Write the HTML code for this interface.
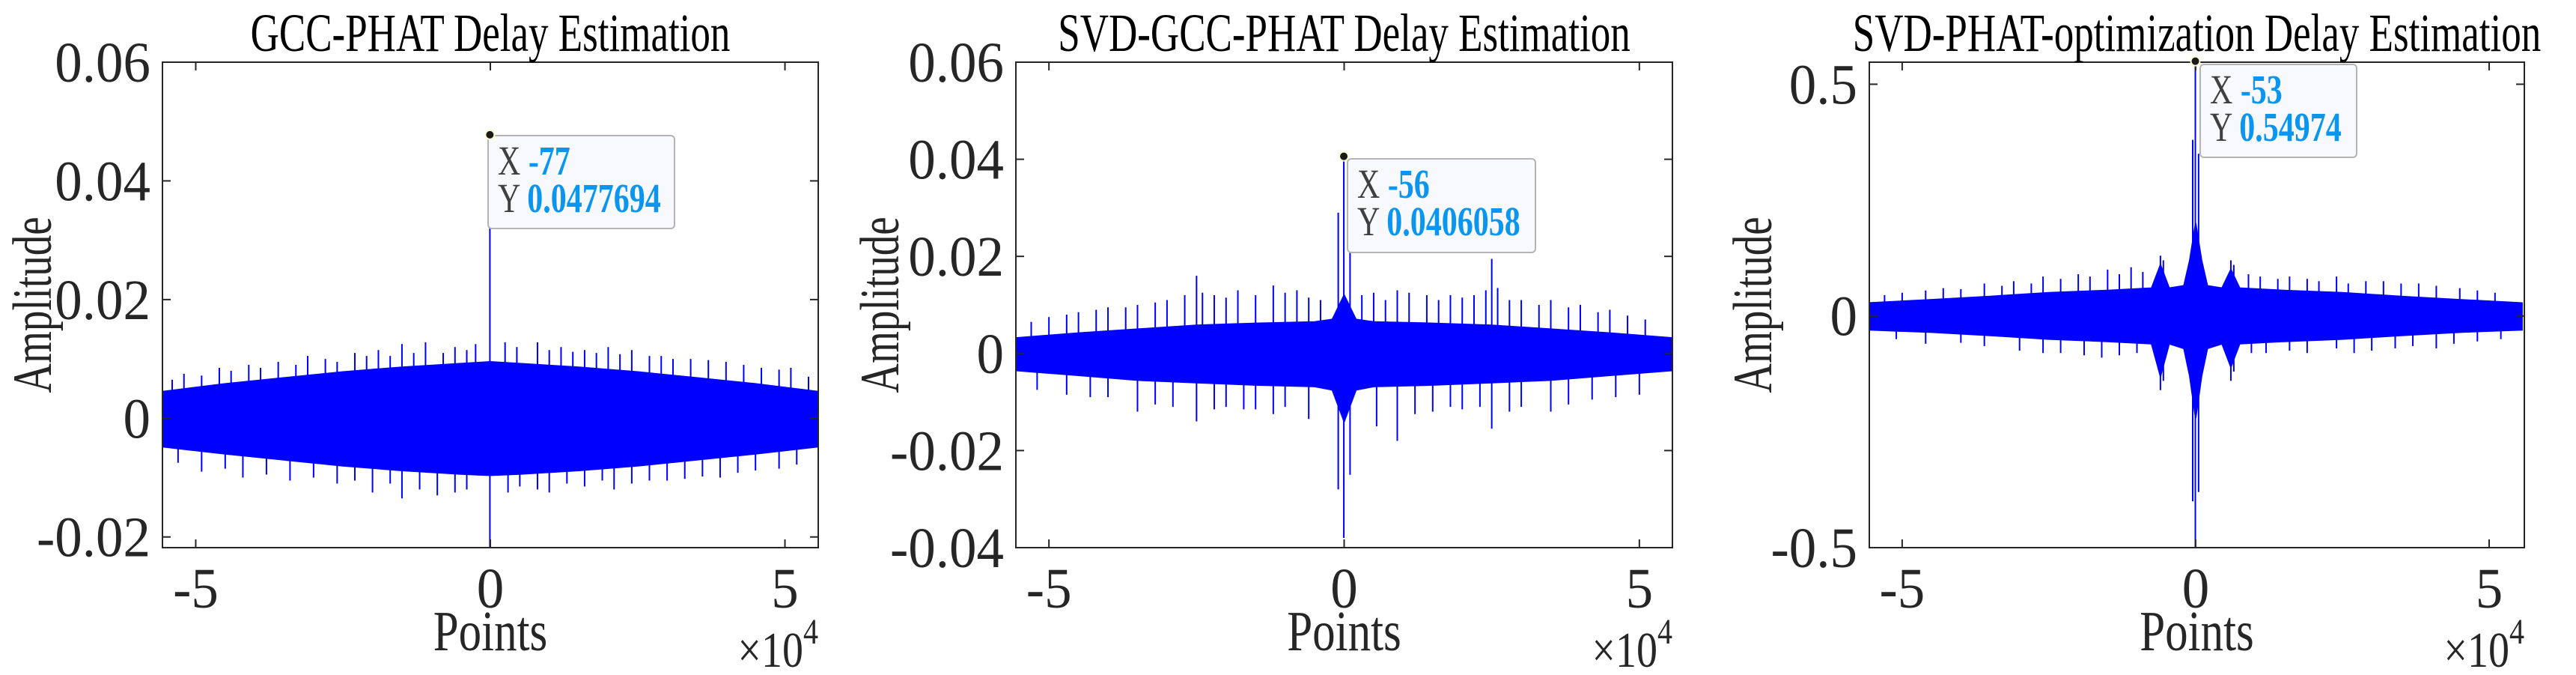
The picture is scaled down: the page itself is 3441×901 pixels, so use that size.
<!DOCTYPE html>
<html><head><meta charset="utf-8"><style>
html,body{margin:0;padding:0;background:#fff;}
svg{display:block;font-family:"Liberation Serif",serif;}
</style></head><body>
<svg id="fig" width="3441" height="901" viewBox="0 0 3441 901" xmlns="http://www.w3.org/2000/svg"></svg>
<script>
// ---- Data (x in units of 1e4 points) ----
const p1EnvX = [-5.56,-4.5,-3.5,-2.5,-1.5,-0.5,0,0.5,1.5,2.5,3.5,4.5,5.56];
const p1EnvUp = [0.0045,0.0058,0.0068,0.0078,0.0086,0.0092,0.0095,0.0092,0.0086,0.0078,0.0068,0.0058,0.0045];
const p1EnvLo = [-0.0048,-0.006,-0.007,-0.008,-0.0088,-0.0094,-0.0096,-0.0094,-0.0088,-0.008,-0.007,-0.006,-0.0048];
const p1SpikeX = [-5.4,-5.2,-4.9,-4.6,-4.4,-4.1,-3.9,-3.6,-3.3,-3.1,-2.8,-2.6,-2.3,-2.1,-1.9,-1.7,-1.5,-1.3,-1.1,-0.8,-0.6,-0.4,-0.25,0.25,0.45,0.8,1.0,1.2,1.4,1.6,1.8,2.0,2.2,2.4,2.7,2.9,3.1,3.4,3.7,4.0,4.3,4.6,4.9,5.1,5.4,
  -5.3,-4.9,-4.5,-4.2,-3.8,-3.4,-3.0,-2.6,-2.3,-2.0,-1.7,-1.5,-1.2,-0.9,-0.6,-0.4,0.3,0.5,0.8,1.0,1.3,1.6,1.9,2.1,2.4,2.7,3.0,3.3,3.6,3.9,4.2,4.5,4.9,5.2];
const p1SpikeY = [0.0065,0.0075,0.0072,0.0085,0.008,0.009,0.0085,0.0095,0.009,0.0105,0.010,0.0095,0.011,0.0105,0.0115,0.0105,0.0125,0.011,0.0128,0.011,0.012,0.0115,0.0125,0.0128,0.012,0.0128,0.0115,0.012,0.0112,0.0115,0.011,0.012,0.0108,0.0115,0.0105,0.0105,0.010,0.010,0.0098,0.0095,0.009,0.0085,0.0082,0.0085,0.007,
  -0.0075,-0.009,-0.0085,-0.010,-0.0095,-0.0105,-0.010,-0.011,-0.0105,-0.0125,-0.011,-0.0135,-0.012,-0.013,-0.0125,-0.012,-0.0125,-0.0115,-0.012,-0.0125,-0.011,-0.0115,-0.0105,-0.012,-0.011,-0.0105,-0.0105,-0.0102,-0.0098,-0.010,-0.0092,-0.0088,-0.0085,-0.0078];
const p1Peak = {x:-77, y:0.0477694, min:-0.0217};
// Panel 2
const p2EnvX = [-5.56,-4.5,-3.5,-2.5,-1.5,-0.5,-0.2,0,0.2,0.5,1.5,2.5,3.5,4.5,5.56];
const p2EnvUp = [0.0032,0.0042,0.005,0.0058,0.0062,0.0065,0.007,0.012,0.007,0.0065,0.0062,0.0058,0.005,0.0042,0.0032];
const p2EnvLo = [-0.0035,-0.0045,-0.0055,-0.006,-0.0065,-0.0068,-0.0075,-0.014,-0.0075,-0.0068,-0.0065,-0.006,-0.0055,-0.0045,-0.0035];
const p2SpikeX = [-5.3,-5.0,-4.7,-4.5,-4.2,-4.0,-3.7,-3.5,-3.2,-3.0,-2.7,-2.5,-2.4,-2.2,-2.0,-1.8,-1.5,-1.2,-1.0,-0.8,-0.6,-0.4,-0.1,0.1,0.3,0.5,0.7,0.9,1.1,1.4,1.6,1.8,2.0,2.2,2.4,2.5,2.6,2.8,3.0,3.3,3.5,3.8,4.0,4.3,4.5,4.8,5.1,
  -5.2,-4.7,-4.3,-4.0,-3.5,-3.2,-2.9,-2.5,-2.2,-2.0,-1.7,-1.5,-1.2,-1.0,-0.6,-0.1,0.1,0.55,0.9,1.2,1.5,1.8,2.0,2.3,2.5,2.8,3.0,3.5,3.8,4.2,4.6,5.0];
const p2SpikeY = [0.0065,0.0075,0.008,0.0085,0.009,0.0095,0.0095,0.010,0.0105,0.011,0.012,0.016,0.0125,0.012,0.0115,0.013,0.012,0.014,0.0125,0.013,0.0115,0.011,0.029,0.025,0.012,0.0125,0.011,0.013,0.0125,0.012,0.011,0.012,0.0115,0.012,0.013,0.0195,0.0135,0.011,0.011,0.010,0.011,0.0095,0.010,0.0085,0.009,0.0078,0.007,
  -0.0075,-0.0085,-0.009,-0.009,-0.012,-0.0105,-0.011,-0.014,-0.0115,-0.011,-0.0115,-0.0115,-0.0125,-0.011,-0.0135,-0.028,-0.025,-0.015,-0.018,-0.0125,-0.012,-0.011,-0.0115,-0.011,-0.0155,-0.012,-0.011,-0.012,-0.0105,-0.0095,-0.009,-0.0085];
const p2Peak = {x:-56, y:0.0406058, min:-0.038};
// Panel 3
const p3EnvX = [-5.56,-4.5,-3.5,-2.5,-1.5,-0.75,-0.6,-0.45,-0.2,-0.1,0,0.1,0.2,0.45,0.6,0.75,1.5,2.5,3.5,4.5,5.56];
const p3EnvUp = [0.028,0.035,0.042,0.05,0.055,0.06,0.11,0.06,0.065,0.12,0.2,0.12,0.065,0.06,0.1,0.06,0.055,0.05,0.042,0.035,0.028];
const p3EnvLo = [-0.03,-0.035,-0.042,-0.05,-0.055,-0.06,-0.13,-0.06,-0.07,-0.13,-0.22,-0.13,-0.07,-0.06,-0.11,-0.06,-0.055,-0.05,-0.042,-0.035,-0.03];
const p3SpikeX = [-5.3,-5.0,-4.6,-4.3,-4.0,-3.6,-3.3,-3.1,-2.8,-2.6,-2.3,-2.0,-1.8,-1.5,-1.3,-1.1,-0.9,-0.6,-0.55,-0.05,0.05,0.6,0.65,0.9,1.1,1.4,1.6,1.9,2.1,2.4,2.6,2.9,3.2,3.5,3.8,4.1,4.5,4.8,5.1,
  -5.1,-4.6,-4.0,-3.6,-3.0,-2.6,-2.3,-1.9,-1.6,-1.3,-1.0,-0.6,-0.55,-0.05,0.05,0.6,0.65,0.95,1.2,1.6,1.9,2.4,2.7,3.0,3.4,3.7,4.1,4.4,4.8,5.2];
const p3SpikeY = [0.045,0.05,0.055,0.06,0.058,0.07,0.065,0.075,0.07,0.085,0.08,0.09,0.085,0.1,0.09,0.105,0.095,0.13,0.12,0.38,0.35,0.12,0.11,0.09,0.085,0.08,0.085,0.08,0.075,0.085,0.07,0.075,0.075,0.07,0.07,0.065,0.06,0.055,0.05,
  -0.05,-0.06,-0.058,-0.065,-0.075,-0.08,-0.08,-0.085,-0.09,-0.085,-0.08,-0.16,-0.14,-0.4,-0.38,-0.14,-0.12,-0.08,-0.08,-0.075,-0.08,-0.07,-0.08,-0.075,-0.07,-0.065,-0.07,-0.06,-0.055,-0.05];
const p3Peak = {x:-53, y:0.54974, min:-0.5};

const yTicks1 = [-0.02,0,0.02,0.04,0.06];
const yTickLabels1 = ["-0.02","0","0.02","0.04","0.06"];
const yTicks2 = [-0.04,-0.02,0,0.02,0.04,0.06];
const yTickLabels2 = ["-0.04","-0.02","0","0.02","0.04","0.06"];
const yTicks3 = [-0.5,0,0.5];
const yTickLabels3 = ["-0.5","0","0.5"];
const xTicks = [-5,0,5];
const xTickLabels = ["-5","0","5"];

const NS = "http://www.w3.org/2000/svg";
const svg = document.getElementById('fig');
function mk(tag, attrs, parent, text){
  const e = document.createElementNS(NS, tag);
  for (const k in attrs) e.setAttribute(k, attrs[k]);
  if (text !== undefined) e.textContent = text;
  (parent||svg).appendChild(e);
  return e;
}
function stext(parent, x, y, sy, attrs, text){
  attrs.x = 0; attrs.y = 0;
  attrs.transform = 'translate(' + x + ',' + y + ') scale(1,' + sy + ')';
  return mk('text', attrs, parent, text);
}

function panel(cfg, title, envX, envUp, envLo, spX, spY, peak, yT, yTL, tipBox, key){
  const g = mk('g', {});
  
  
  const xs = v => cfg.x0 + (v - cfg.xmin) / (cfg.xmax - cfg.xmin) * (cfg.x1 - cfg.x0);
  const ys = v => cfg.y1 - (v - cfg.ymin) / (cfg.ymax - cfg.ymin) * (cfg.y1 - cfg.y0);
  const clipId = key + '-clip';
  const cp = mk('clipPath', {id: clipId}, g);
  mk('rect', {x:cfg.x0, y:cfg.y0, width:cfg.x1-cfg.x0, height:cfg.y1-cfg.y0}, cp);
  const dg = mk('g', {'clip-path':'url(#'+clipId+')'}, g);
  let d = '';
  envX.forEach((x,i)=>{ d += (i?'L':'M') + xs(x).toFixed(1) + ' ' + ys(envUp[i]).toFixed(1); });
  for (let i=envX.length-1;i>=0;i--) d += 'L' + xs(envX[i]).toFixed(1) + ' ' + ys(envLo[i]).toFixed(1);
  const env = mk('path', {d: d+'Z', fill:'#0000ff', stroke:'#0000ff', 'stroke-width':2}, dg);
  
  
  spX.forEach((x,i)=>{
    const l = mk('line', {x1:xs(x), x2:xs(x), y1:ys(0), y2:ys(spY[i]), stroke:'#0000ff', 'stroke-width':2}, dg);
    
    
  });
  const px = xs(peak.x/1e4);
  const pk = mk('line', {x1:px, x2:px, y1:ys(peak.y), y2:ys(peak.min), stroke:'#0000ff', 'stroke-width':2}, dg);
  
  
  const bx = mk('rect', {x:cfg.x0, y:cfg.y0, width:cfg.x1-cfg.x0, height:cfg.y1-cfg.y0, fill:'none', stroke:'#262626', 'stroke-width':2}, g);
  
  
  yT.forEach((v,i)=>{
    const y = ys(v);
    mk('line', {x1:cfg.x0, x2:cfg.x0+11, y1:y, y2:y, stroke:'#262626', 'stroke-width':2}, g);
    mk('line', {x1:cfg.x1, x2:cfg.x1-11, y1:y, y2:y, stroke:'#262626', 'stroke-width':2}, g);
    const t = stext(g, cfg.x0-16, y+26, 1.05, {'text-anchor':'end', 'font-size':73, fill:'#262626'}, yTL[i]);
    
    
  });
  xTicks.forEach((v,i)=>{
    const x = xs(v);
    mk('line', {x1:x, x2:x, y1:cfg.y1, y2:cfg.y1-11, stroke:'#262626', 'stroke-width':2}, g);
    mk('line', {x1:x, x2:x, y1:cfg.y0, y2:cfg.y0+11, stroke:'#262626', 'stroke-width':2}, g);
    const t = stext(g, x, 811, 1.05, {'text-anchor':'middle', 'font-size':73, fill:'#262626'}, xTickLabels[i]);
    
    
  });
  const cx = (cfg.x0+cfg.x1)/2;
  const tt = stext(g, cx, 68, 1.35, {'text-anchor':'middle', 'font-size':53, fill:'#000'}, title);
  
  
  const xl = stext(g, cx, 868, 1.25, {'text-anchor':'middle', 'font-size':61, fill:'#262626'}, 'Points');
  
  
  const ex = stext(g, cfg.x1, 890, 1.2, {'text-anchor':'end', 'font-size':56, fill:'#262626'});
  
  
  ex.innerHTML = '×10<tspan dy="-26" font-size="40">4</tspan>';
  const yl = mk('text', {x:0, y:0, 'text-anchor':'middle', 'font-size':55, fill:'#262626', transform:'translate('+cfg.ylx+',407) rotate(-90) scale(1,1.35)'}, g, 'Amplitude');
  
  
  const tip = mk('g', {}, g);
  
  
  mk('rect', {x:tipBox.x, y:tipBox.y, width:tipBox.w, height:tipBox.h, rx:5, fill:'#f8f9fd', stroke:'#b4b4b4', 'stroke-width':2}, tip);
  const py = ys(peak.y);
  mk('circle', {cx:px, cy:py, r:6, fill:'#1a1a1a', stroke:'#fffbd0', 'stroke-width':2}, tip);
  const t1 = stext(tip, tipBox.x+13, tipBox.y+52, 1.3, {'font-size':42, fill:'#404040'});
  t1.innerHTML = 'X <tspan font-weight="bold" fill="#0a96f0">'+peak.x+'</tspan>';
  const t2 = stext(tip, tipBox.x+13, tipBox.y+102, 1.3, {'font-size':42, fill:'#404040'});
  t2.innerHTML = 'Y <tspan font-weight="bold" fill="#0a96f0">'+peak.y+'</tspan>';
}

panel({x0:217,x1:1093,y0:83,y1:731,xmin:-5.565,xmax:5.565,ymin:-0.0218,ymax:0.06,ylx:68},
  'GCC-PHAT Delay Estimation', p1EnvX, p1EnvUp, p1EnvLo, p1SpikeX, p1SpikeY, p1Peak, yTicks1, yTickLabels1,
  {x:652,y:181,w:249,h:124}, 'gcc-phat');
panel({x0:1357,x1:2234,y0:83,y1:731,xmin:-5.56,xmax:5.56,ymin:-0.04,ymax:0.06,ylx:1200},
  'SVD-GCC-PHAT Delay Estimation', p2EnvX, p2EnvUp, p2EnvLo, p2SpikeX, p2SpikeY, p2Peak, yTicks2, yTickLabels2,
  {x:1800,y:212,w:251,h:125}, 'svd-gcc-phat');
panel({x0:2497,x1:3372,y0:83,y1:731,xmin:-5.56,xmax:5.6,ymin:-0.5,ymax:0.5476,ylx:2366},
  'SVD-PHAT-optimization Delay Estimation', p3EnvX, p3EnvUp, p3EnvLo, p3SpikeX, p3SpikeY, p3Peak, yTicks3, yTickLabels3,
  {x:2939,y:86,w:209,h:124}, 'svd-phat-opt');
</script>
</body></html>
